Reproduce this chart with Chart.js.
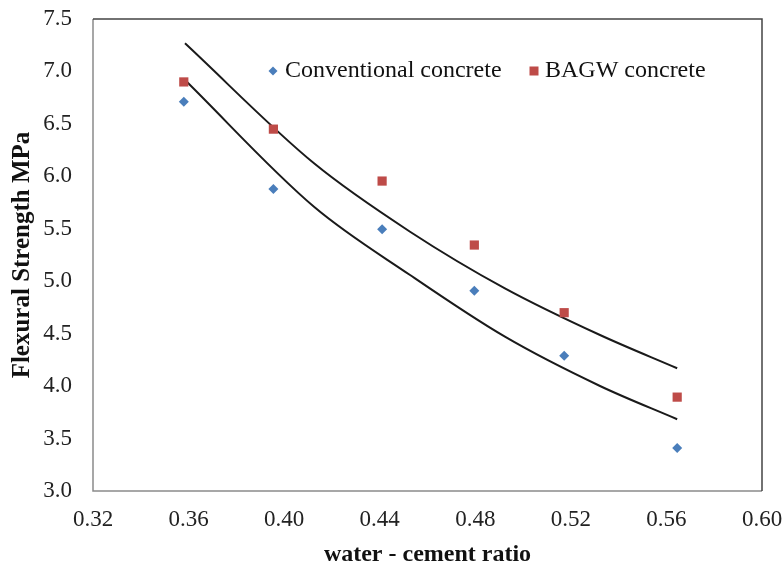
<!DOCTYPE html>
<html>
<head>
<meta charset="utf-8">
<script src="https://cdn.jsdelivr.net/npm/chart.js@4/dist/chart.umd.min.js"></script>
<style>
  html, body { margin: 0; padding: 0; background: #fff; }
  #wrap { width: 784px; height: 567px; position: relative; }
</style>
</head>
<body>
<div id="wrap"><canvas id="c" width="784" height="567"></canvas></div>
<script>
// ---- data ----
const wcRatio = [0.358, 0.3955, 0.441, 0.4796, 0.5172, 0.5645];
const conventional = [6.71, 5.88, 5.495, 4.91, 4.29, 3.41];
const bagw = [6.90, 6.45, 5.955, 5.345, 4.70, 3.895];

// trend lines
const trendX = [0.3585, 0.4125, 0.4527, 0.4924, 0.5322, 0.5645];
const trendBagw = [7.268, 6.124, 5.472, 4.932, 4.487, 4.170];
const trendConv = [6.918, 5.710, 5.059, 4.471, 4.001, 3.684];

const xTicks = [0.32, 0.36, 0.40, 0.44, 0.48, 0.52, 0.56, 0.60];
const yTicks = [3.0, 3.5, 4.0, 4.5, 5.0, 5.5, 6.0, 6.5, 7.0, 7.5];

const seriesNames = ['Conventional concrete', 'BAGW concrete'];
const xTitle = 'water - cement ratio';
const yTitle = 'Flexural Strength MPa';

const BLUE = '#4a7ebb';
const RED = '#be4b48';
const FONT = "'Liberation Serif', 'Times New Roman', serif";

const pts = (xs, ys) => xs.map((x, i) => ({ x: x, y: ys[i] }));

const frame = {
  id: 'frame',
  afterDatasetsDraw(chart) {
    const a = chart.chartArea, ctx = chart.ctx;
    ctx.save();
    ctx.lineWidth = 1.5;
    ctx.strokeStyle = '#8a8a8a';
    ctx.beginPath();
    ctx.moveTo(a.left, a.top); ctx.lineTo(a.left, a.bottom); ctx.lineTo(a.right, a.bottom);
    ctx.stroke();
    ctx.strokeStyle = '#444';
    ctx.beginPath();
    ctx.moveTo(a.left, a.top); ctx.lineTo(a.right, a.top); ctx.lineTo(a.right, a.bottom);
    ctx.stroke();
    ctx.restore();
  }
};

const legendInside = {
  id: 'legendInside',
  afterDraw(chart) {
    const ctx = chart.ctx;
    ctx.save();
    ctx.font = "24px " + FONT;
    ctx.textBaseline = 'middle';
    ctx.textAlign = 'left';
    const ly = 71;
    ctx.fillStyle = BLUE;
    ctx.beginPath();
    ctx.moveTo(273, ly - 4.5); ctx.lineTo(277.5, ly); ctx.lineTo(273, ly + 4.5); ctx.lineTo(268.5, ly);
    ctx.closePath(); ctx.fill();
    ctx.fillStyle = '#111';
    ctx.fillText(seriesNames[0], 285, ly);
    ctx.fillStyle = RED;
    ctx.fillRect(529.5, ly - 4.5, 9, 9);
    ctx.fillStyle = '#111';
    ctx.fillText(seriesNames[1], 545, ly);
    ctx.restore();
  }
};

function zeroPad(s) { s.paddingTop = 0; s.paddingBottom = 0; s.paddingLeft = 0; s.paddingRight = 0; }

new Chart(document.getElementById('c'), {
  type: 'scatter',
  data: {
    datasets: [
      { label: seriesNames[0], data: pts(wcRatio, conventional), pointStyle: 'rectRot', pointRadius: 5,
        backgroundColor: BLUE, borderColor: BLUE, borderWidth: 0, order: 1 },
      { label: seriesNames[1], data: pts(wcRatio, bagw), pointStyle: 'rect', pointRadius: 6.5,
        backgroundColor: RED, borderColor: RED, borderWidth: 0, order: 1 },
      { label: 'trend BAGW', data: pts(trendX, trendBagw), showLine: true, pointRadius: 0,
        borderColor: '#1a1a1a', borderWidth: 2, cubicInterpolationMode: 'monotone', order: 2 },
      { label: 'trend Conv', data: pts(trendX, trendConv), showLine: true, pointRadius: 0,
        borderColor: '#1a1a1a', borderWidth: 2, cubicInterpolationMode: 'monotone', order: 2 }
    ]
  },
  options: {
    responsive: false,
    animation: false,
    devicePixelRatio: 1,
    layout: { padding: { top: 19, right: 22, left: 0, bottom: 0 } },
    plugins: { legend: { display: false }, tooltip: { enabled: false } },
    scales: {
      x: {
        type: 'linear', min: 0.32, max: 0.60,
        afterBuildTicks(s) { s.ticks = xTicks.map(v => ({ value: v })); },
        afterFit(s) { s.height = 76; zeroPad(s); },
        grid: { display: false, drawTicks: false },
        border: { display: false },
        ticks: { padding: 15, color: '#222', font: { family: FONT, size: 23 },
                 callback: v => v.toFixed(2), maxRotation: 0, autoSkip: false },
        title: { display: true, text: xTitle, color: '#111',
                 font: { family: FONT, size: 24, weight: 'bold', lineHeight: 1 }, padding: { top: 0, bottom: 0 } }
      },
      y: {
        type: 'linear', min: 3.0, max: 7.5,
        afterBuildTicks(s) { s.ticks = yTicks.map(v => ({ value: v })); },
        afterFit(s) { s.width = 93; zeroPad(s); },
        grid: { display: false, drawTicks: false },
        border: { display: false },
        ticks: { padding: 21, color: '#222', font: { family: FONT, size: 23 },
                 callback: v => v.toFixed(1), autoSkip: false },
        title: { display: true, text: yTitle, color: '#111',
                 font: { family: FONT, size: 25, weight: 'bold', lineHeight: 1.2 }, padding: { top: 8, bottom: 0 } }
      }
    }
  },
  plugins: [frame, legendInside]
});
</script>
</body>
</html>
